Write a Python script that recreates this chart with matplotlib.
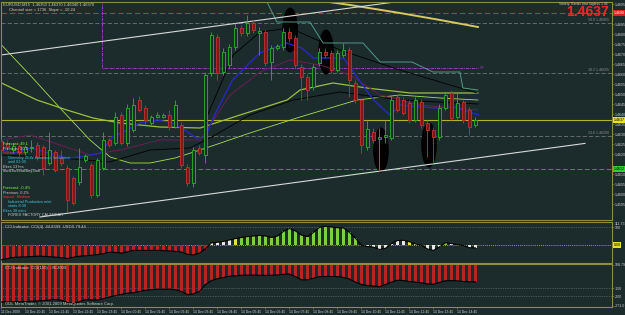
import matplotlib
matplotlib.use("Agg")
import matplotlib.pyplot as plt
from matplotlib.patches import Rectangle, Ellipse

plt.rcParams['font.family'] = ['Liberation Sans Narrow', 'Liberation Sans', 'DejaVu Sans']

W, H = 625, 315
BG = '#1c2b2b'
FRAME = '#8e8c3e'
TXT = '#d0d0d0'
FS = 3.0

# ---------------- data ----------------
opens = [1.46265,1.46255,1.46220,1.46240,1.46210,1.46230,1.46245,1.46235,1.46155,1.46210,
         1.46180,1.46130,1.46080,1.46060,1.46170,1.46145,1.45995,1.46130,1.46270,1.46255,
         1.46395,1.46255,1.46320,1.46470,1.46430,1.46355,1.46385,1.46385,1.46395,1.46335,
         1.46345,1.46135,1.46055,1.46230,1.46195,1.46605,1.46785,1.46610,1.46645,1.46735,
         1.46830,1.46805,1.46855,1.46805,1.46810,1.46660,1.46730,1.46735,1.46810,1.46780,
         1.46635,1.46585,1.46535,1.46655,1.46710,1.46705,1.46620,1.46695,1.46720,1.46555,
         1.46470,1.46235,1.46310,1.46275,1.46285,1.46280,1.46485,1.46470,1.46455,1.46370,
         1.46460,1.46355,1.46320,1.46285,1.46430,1.46505,1.46385,1.46460,1.46420,1.46345]
highs = [1.46280,1.46270,1.46255,1.46250,1.46245,1.46270,1.46260,1.46245,1.46310,1.46220,
         1.46220,1.46145,1.46090,1.46230,1.46200,1.46155,1.46180,1.46310,1.46280,1.46410,
         1.46410,1.46450,1.46480,1.46490,1.46445,1.46395,1.46410,1.46405,1.46420,1.46470,
         1.46360,1.46150,1.46235,1.46245,1.46610,1.46810,1.46800,1.46730,1.46750,1.46855,
         1.46845,1.46895,1.46870,1.46835,1.46820,1.46745,1.46750,1.46830,1.46830,1.46795,
         1.46650,1.46600,1.46650,1.46730,1.46730,1.46720,1.46720,1.46755,1.46735,1.46570,
         1.46480,1.46370,1.46330,1.46330,1.46370,1.46495,1.46500,1.46485,1.46470,1.46485,
         1.46475,1.46370,1.46335,1.46450,1.46510,1.46520,1.46510,1.46470,1.46435,1.46385]
lows = [1.46190,1.46220,1.46205,1.46190,1.46195,1.46210,1.46170,1.46095,1.46145,1.46110,
        1.46140,1.45910,1.45945,1.46045,1.46160,1.45980,1.45985,1.46120,1.46235,1.46245,
        1.46245,1.46240,1.46310,1.46410,1.46345,1.46345,1.46380,1.46380,1.46320,1.46330,
        1.46130,1.46040,1.46035,1.46195,1.46155,1.46590,1.46570,1.46595,1.46630,1.46720,
        1.46790,1.46790,1.46805,1.46695,1.46640,1.46570,1.46720,1.46720,1.46760,1.46630,
        1.46470,1.46470,1.46520,1.46640,1.46680,1.46605,1.46610,1.46685,1.46485,1.46455,
        1.46205,1.46220,1.46255,1.46120,1.46255,1.46270,1.46410,1.46395,1.46355,1.46360,
        1.46330,1.46185,1.46155,1.46270,1.46420,1.46370,1.46375,1.46355,1.46295,1.46335]
closes = [1.46220,1.46235,1.46240,1.46210,1.46235,1.46235,1.46185,1.46130,1.46220,1.46120,
          1.46155,1.45970,1.45955,1.46135,1.46190,1.45995,1.46170,1.46270,1.46245,1.46385,
          1.46255,1.46430,1.46445,1.46420,1.46370,1.46385,1.46395,1.46395,1.46335,1.46445,
          1.46145,1.46055,1.46220,1.46205,1.46595,1.46795,1.46605,1.46710,1.46735,1.46830,
          1.46805,1.46855,1.46820,1.46815,1.46655,1.46730,1.46740,1.46810,1.46780,1.46645,
          1.46585,1.46520,1.46635,1.46710,1.46695,1.46620,1.46705,1.46720,1.46570,1.46470,
          1.46245,1.46325,1.46270,1.46285,1.46295,1.46470,1.46420,1.46405,1.46370,1.46470,
          1.46345,1.46320,1.46285,1.46430,1.46495,1.46380,1.46455,1.46370,1.46335,1.46370]

# indicator lines: (bar index, price)
blue_x = [0,2,5,9,11,13,16.5,18.5,21,23,26,28.5,30.5,32.5,34,35.5,38.5,43,47.5,50,52,57,59.25,62,64.75,66.5,72.25,75.5,79.5]
blue_y = [1.46220,1.46205,1.46230,1.46195,1.46180,1.46185,1.46205,1.46285,1.46320,1.46355,1.46370,1.46355,
          1.46320,1.46280,1.46285,1.46395,1.46570,1.46705,1.46755,1.46730,1.46680,1.46680,1.46585,1.46470,
          1.46395,1.46445,1.46430,1.46435,1.46395]
mag_x = [0,4.75,9.75,14.75,19.75,26.4,33.1,38.1,43.1,48.1,53.1,58.1,63.1,69.75,79.4]
mag_y = [1.46270,1.46295,1.46245,1.46195,1.46220,1.46270,1.46270,1.46495,1.46610,1.46670,1.46645,1.46595,
         1.46495,1.46445,1.46420]
blk1_x = [0,8,18,24.75,31.4,34.75,41.4,48.6,56.4,66.4,79.4]
blk1_y = [1.46195,1.46185,1.46160,1.46220,1.46230,1.46280,1.46395,1.46470,1.46510,1.46470,1.46450]
blk2_x = [34,38.6,43.1,48.1,56.4,66.4,79.25]
blk2_y = [1.46370,1.46695,1.46810,1.46830,1.46720,1.46620,1.46505]
lime_x = [0,4.75,9.75,14.75,18.1,21.4,24.75,28.9,33.1,41.4,49.75,59.25,66.4,73.1,79.4]
lime_y = [1.46745,1.46595,1.46430,1.46270,1.46185,1.46155,1.46155,1.46180,1.46220,1.46305,1.46385,1.46470,
          1.46495,1.46480,1.46470]
olive_x = [0,5.9,10.9,15.25,19.75,26.4,33.1,39.75,47.6,49.75,55.25,60.9,68.1,79.4]
olive_y = [1.46555,1.46470,1.46420,1.46380,1.46355,1.46335,1.46330,1.46395,1.46470,1.46520,1.46555,1.46530,
           1.46505,1.46505]
teal_x = [33.1,40.9,44.25,45.9,51.4,53.6,60.25,63.1,68.4,71.9,76.4,76.9,79.4]
teal_y = [1.46970,1.46960,1.46960,1.46860,1.46860,1.46755,1.46755,1.46660,1.46660,1.46610,1.46610,1.46530,1.46520]
slow_x = [52.25,58.1,66.4,73.1,79.4]
slow_y = [1.46970,1.46945,1.46905,1.46870,1.46835]

chan_up_x, chan_up_y = [-0.1, 70.5], [1.46695, 1.46980]
chan_lo_x, chan_lo_y = [6.4, 97.25], [1.45885, 1.46253]

red_level = 1.46905
fib_levels = [1.46855, 1.46605, 1.46290]
fib_names = ['50.0', '38.2', '23.6']
bid_level = 1.46370
green_level = 1.46125
sp_level = 1.46630
sp_start = 16.75
sp_end = 79.4

# black ellipse marks (bar index, price)
ell_x = [48.1, 54.1, 63.25, 71.25]
ell_y = [1.46820, 1.46710, 1.46220, 1.46245]

cci_fast = [-82,-75,-69,-67,-66,-64,-62,-63,-65,-67,
            -71,-75,-68,-62,-60,-57,-53,-48,-40,-41,
            -45,-38,-30,-30,-30,-30,-30,-31,-33,-35,
            -39,-52,-55,-45,-20,12,15,20,28,36,
            42,47,50,54,50,42,50,76,92,78,
            55,47,70,98,104,100,96,95,70,38,
            -2,-8,-12,-25,-18,8,25,26,18,6,
            -2,-22,-30,-10,13,8,3,-3,-15,-16]
cci_fast_col = (['r'] * 35 + ['w'] * 4 + ['y'] + ['g'] * 20 + ['w'] * 8 + ['y'] + ['w'] * 5
                + ['g'] + ['w'] + ['y'] + ['w'] * 3)
cci_slow = [-237,-237,-236,-235,-234,-232,-230,-228,-224,-221,
            -226,-240,-245,-235,-222,-224,-224,-215,-205,-196,
            -188,-180,-178,-170,-162,-158,-155,-155,-155,-158,
            -170,-190,-185,-170,-125,-100,-88,-80,-72,-70,
            -66,-65,-65,-66,-67,-66,-64,-60,-58,-75,
            -95,-95,-85,-75,-74,-74,-75,-80,-90,-110,
            -125,-132,-135,-140,-125,-110,-98,-100,-106,-110,
            -115,-122,-123,-112,-101,-100,-102,-106,-108,-108]

price_ticks = [1.4595, 1.4600, 1.4605, 1.4610, 1.4620, 1.4625, 1.4630, 1.4635, 1.4640, 1.4645,
               1.4650, 1.4655, 1.4660, 1.4665, 1.4670, 1.4675, 1.4680, 1.4685, 1.4695]
time_ticks = [0] + [4 + 4 * k for k in range(19)]
time_labels = ['11 Dec 2009', '13 Dec 20:45', '13 Dec 21:45', '13 Dec 22:45', '13 Dec 23:45',
               '14 Dec 00:45', '14 Dec 01:45', '14 Dec 02:45', '14 Dec 03:45', '14 Dec 04:45',
               '14 Dec 05:45', '14 Dec 06:45', '14 Dec 07:45', '14 Dec 08:45', '14 Dec 09:45',
               '14 Dec 10:45', '14 Dec 11:45', '14 Dec 12:45', '14 Dec 13:45', '14 Dec 14:45']

# ---------------- figure ----------------
fig = plt.figure(figsize=(W / 100, H / 100), dpi=100, facecolor=BG)

def box(top, bottom, left=1, right=612):
    return [left / W, 1 - bottom / H, (right - left) / W, (bottom - top) / H]

XL = (-0.083, 101.75)
ax = fig.add_axes(box(1.5, 220))
ax1 = fig.add_axes(box(222, 263))
ax2 = fig.add_axes(box(264, 307))

for a in (ax, ax1, ax2):
    a.set_facecolor(BG)
    a.set_xlim(*XL)
    for s in a.spines.values():
        s.set_color(FRAME)
        s.set_linewidth(0.8)
    a.yaxis.tick_right()
    a.tick_params(axis='y', colors=TXT, labelsize=FS - 0.4, length=1.5, width=0.4, pad=0.8)
    a.tick_params(axis='y', color=FRAME)
    a.tick_params(axis='x', bottom=False, labelbottom=False)

ax.set_ylim(1.4587, 1.469625)
ax.set_yticks(price_ticks)
ax.set_yticklabels([f'{v:.4f}' for v in price_ticks])

# horizontal levels
ax.axhline(red_level, color='#c43232', ls=(0, (5, 2.5)), lw=0.8, zorder=1)
for lv in fib_levels:
    ax.axhline(lv, color='#6e7474', ls=(0, (5, 2.5)), lw=0.6, zorder=1)
ax.axhline(bid_level, color='#b4b22e', lw=0.8, zorder=1)
ax.axhline(green_level, color='#3a9a3a', ls=(0, (5, 2.5)), lw=0.7, zorder=1)
ax.plot([sp_start, sp_start, sp_end], [1.4697, sp_level, sp_level], color='#9b3fc8',
        ls=(0, (3, 1, 1, 1)), lw=0.7, zorder=1)
ax.text(sp_end + 0.4, sp_level, 'SP', color='#9b3fc8', fontsize=FS - 0.4, va='center', ha='left')

for n, lv in zip(fib_names, fib_levels):
    ax.text(101.2, lv + 0.00006, f'{n} {lv:.5f}', color='#8a8f8f', fontsize=FS - 0.4,
            ha='right', va='bottom')

# ellipses
for ex, ey in zip(ell_x, ell_y):
    ax.add_patch(Ellipse((ex, ey), 2.6, 0.00225, fc='black', ec='none', zorder=2))

# indicator lines
ax.plot(lime_x, lime_y, color='#a8e050', lw=0.6, zorder=2)
ax.plot(olive_x, olive_y, color='#9cc040', lw=0.9, zorder=2)
ax.plot(blk1_x, blk1_y, color='#000000', lw=0.6, zorder=2)
ax.plot(blk2_x, blk2_y, color='#000000', lw=0.6, zorder=2)
ax.plot(mag_x, mag_y, color='#6a1e58', lw=0.7, zorder=2)
ax.plot(blue_x, blue_y, color='#2828c8', lw=1.0, zorder=2)
ax.plot(teal_x, teal_y, color='#4e9a8a', lw=0.7, zorder=2)
ax.plot(slow_x, slow_y, color='#d8c860', lw=1.4, zorder=2)
ax.plot(chan_up_x, chan_up_y, color='#d8d8d8', lw=0.8, zorder=2)
ax.plot(chan_lo_x, chan_lo_y, color='#d8d8d8', lw=0.8, zorder=2)

# candles
for i, (o, h, l, c) in enumerate(zip(opens, highs, lows, closes)):
    up = c >= o
    col = '#27b827' if up else '#c83030'
    ax.vlines(i, l, h, color=col, lw=0.6, zorder=3)
    lo_b, hi_b = min(o, c), max(o, c)
    if hi_b - lo_b < 0.00003:
        ax.hlines((o + c) / 2, i - 0.3, i + 0.3, color=col, lw=0.8, zorder=4)
    else:
        ax.add_patch(Rectangle((i - 0.3, lo_b), 0.6, hi_b - lo_b, fc=BG if up else '#7a1a1a',
                               ec=col, lw=0.6, zorder=4))

# right-axis boxes
def tag(a, y, txt, fc, tc):
    a.annotate(txt, xy=(1.0, y), xycoords=('axes fraction', 'data'), xytext=(1.0, 0),
               textcoords='offset points', fontsize=FS - 0.4, color=tc, va='center', ha='left',
               bbox=dict(boxstyle='square,pad=0.15', fc=fc, ec='none'), annotation_clip=False)

tag(ax, red_level, f'{red_level:.4f}', '#e02020', 'white')
tag(ax, bid_level, f'{bid_level:.4f}', '#e8e020', 'black')
tag(ax, green_level, f'{green_level:.4f}', '#30d030', 'black')

# ---------------- CCI fast ----------------
cmap = {'r': '#b82424', 'w': '#e8e8e8', 'y': '#e8e040', 'g': '#7cd040'}
idx = list(range(len(cci_fast)))
ax1.set_ylim(-100, 128)
ax1.bar(idx, cci_fast, width=0.35, color=[cmap[k] for k in cci_fast_col], zorder=2)
ax1.plot(idx, cci_fast, color='black', lw=0.8, zorder=3)
ax1.axhline(100, color='#7a7a7a', ls=(0, (1, 1.5)), lw=0.5, zorder=1)
ax1.axhline(0, color='#c8c850', ls=(0, (1, 1.5)), lw=0.6, zorder=1)
ax1.set_yticks([100])
ax1.set_yticklabels(['100'])
ax1.text(1.004, 0.99, '111.73', transform=ax1.transAxes, fontsize=FS - 0.4, color=TXT, va='top')
tag(ax1, 0, '0.00', '#e8e020', 'black')
ax1.text(0.006, 0.93, 'CCI Indicator  CCI(4)  44.8399  USDX 79.44', transform=ax1.transAxes,
         fontsize=FS, color=TXT, va='top')

# ---------------- CCI slow ----------------
ax2.set_ylim(-269, 6)
ax2.bar(idx, cci_slow, width=0.35, color='#b82424', zorder=2)
ax2.plot(idx, cci_slow, color='black', lw=0.8, zorder=3)
ax2.axhline(-150, color='#7a7a7a', ls=(0, (1, 1.5)), lw=0.5, zorder=1)
ax2.axhline(-200, color='#7a7a7a', ls=(0, (1, 1.5)), lw=0.5, zorder=1)
ax2.set_yticks([0, -150, -200, -262])
ax2.set_yticklabels(['108.79', '-150', '-200', '-271.0'])
ax2.text(0.006, 0.95, 'CCI Indicator  CCI(150)  -95.2009', transform=ax2.transAxes,
         fontsize=FS, color=TXT, va='top')
ax2.text(0.006, 0.03, 'ODL MetaTrader, \u00a9 2001-2009 MetaQuotes Software Corp.',
         transform=ax2.transAxes, fontsize=FS, color=TXT, va='bottom')
ax2.tick_params(axis='x', bottom=True, labelbottom=True, colors=TXT, labelsize=FS - 0.6,
                length=1.5, width=0.4, pad=0.8)
ax2.tick_params(axis='x', color=FRAME)
ax2.set_xticks(time_ticks)
ax2.set_xticklabels(time_labels, ha='left')

# ---------------- texts ----------------
def ft(x, y, s, col=TXT, size=FS, **kw):
    fig.text(x / W, 1 - y / H, s, color=col, fontsize=size, va='center', **kw)

ft(3, 4.5, 'EURUSD,M15  1.46350 1.46370 1.46340 1.46370')
ft(9, 9.5, 'Channel size = 1736  Slope = -10.24')
ft(608, 4, 'Variety: Bands time lagless 1.46', size=FS - 0.6, ha='right')
ft(609, 12, '1.4637', col='#ff2424', size=10, ha='right', weight='bold')

cal = [(3, 144, '#80ff40', 'Forecast: 49.1'),
       (3, 148.5, TXT, 'Previous: 50.1'),
       (3, 153, '#ff3030', 'Impact: High'),
       (8, 158, '#40c8e0', 'Germany ZEW Economic Sentiment'),
       (8, 162, '#40c8e0', 'until 01:00'),
       (3, 166.5, TXT, 'Ekes 13 hrs'),
       (3, 171, TXT, 'www.forexfactory.com'),
       (3, 188, '#80ff40', 'Forecast: -0.4%'),
       (3, 192.5, TXT, 'Previous: 0.2%'),
       (3, 197, '#ff3030', 'Impact: Medium'),
       (8, 202, '#40c8e0', 'Industrial Production m/m'),
       (8, 206, '#40c8e0', 'starts 8:30'),
       (3, 210.5, '#40c8e0', 'Ekes 38 mins'),
       (8, 215.5, TXT, 'FOREX FACTORY CALENDAR')]
for x, y, c, s in cal:
    ft(x, y, s, col=c, size=FS - 0.2)

fig.savefig('out.png', dpi=100, facecolor=BG)
